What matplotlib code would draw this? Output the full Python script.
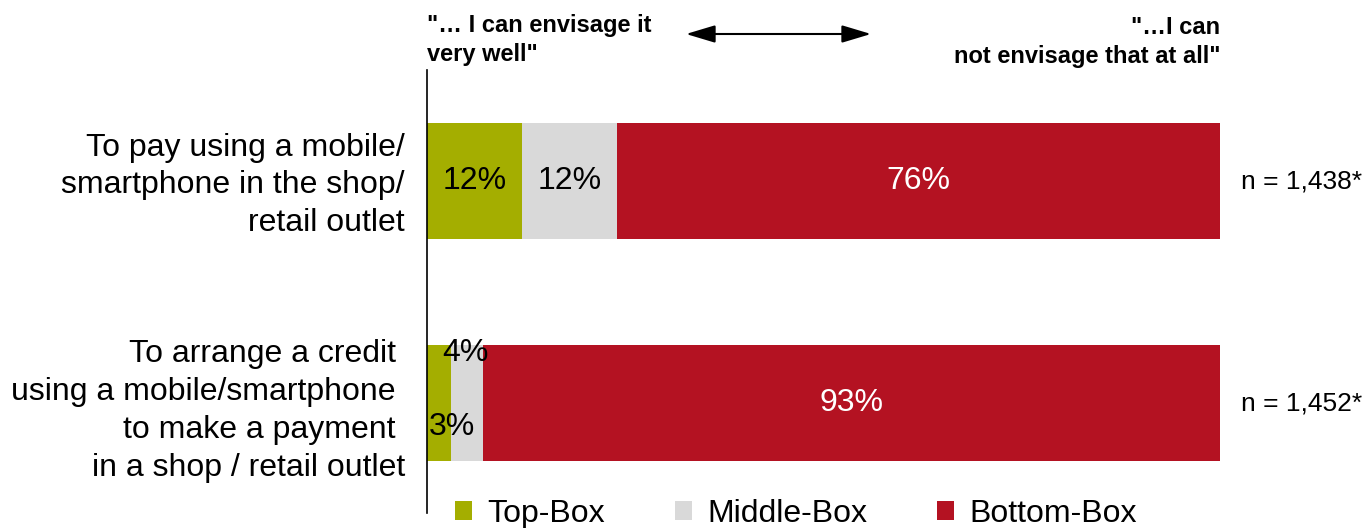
import matplotlib
matplotlib.use("Agg")
import matplotlib.pyplot as plt
from matplotlib.patches import Patch, FancyArrowPatch

plt.rcParams['font.family'] = ['Liberation Sans', 'DejaVu Sans']

# Survey statements and answer shares (%)
statements = [
    "To pay using a mobile/\nsmartphone in the shop/\nretail outlet",
    "To arrange a credit \nusing a mobile/smartphone \nto make a payment \nin a shop / retail outlet",
]
top_box = [12, 3]
middle_box = [12, 4]
bottom_box = [76, 93]
sample_sizes = ["n = 1,438*", "n = 1,452*"]
series_names = ["Top-Box", "Middle-Box", "Bottom-Box"]
colors = ["#A4AE00", "#D9D9D9", "#B41222"]

W, H = 1367, 528
fig = plt.figure(figsize=(W / 100, H / 100), dpi=100)
ax = fig.add_axes([427 / W, (H - 513) / H, (1220 - 427) / W, (513 - 70) / H])

ypos = [1, 0]
bar_h = 0.5225
lefts = [0, 0]
for vals, col in zip([top_box, middle_box, bottom_box], colors):
    ax.barh(ypos, vals, left=lefts, height=bar_h, color=col, edgecolor='none')
    lefts = [l + v for l, v in zip(lefts, vals)]

ax.set_xlim(0, 100)
ax.set_ylim(-0.495, 1.5)
for s in ['top', 'right', 'bottom']:
    ax.spines[s].set_visible(False)
ax.spines['left'].set_linewidth(1.2)
ax.set_xticks([])
ax.set_yticks([])

fs = 23
# Value labels: first statement
y = ypos[0]
ax.text(top_box[0] / 2, y, f"{top_box[0]}%", ha='center', va='center', fontsize=fs, color='black')
ax.text(top_box[0] + middle_box[0] / 2, y, f"{middle_box[0]}%", ha='center', va='center', fontsize=fs, color='black')
ax.text(top_box[0] + middle_box[0] + bottom_box[0] / 2, y, f"{bottom_box[0]}%", ha='center', va='center', fontsize=fs, color='white')

# Value labels: second statement (small shares placed off-centre)
y = ypos[1]
ax.text(top_box[1] / 2 + 1.65, y - 0.108, f"{top_box[1]}%", ha='center', va='center', fontsize=fs, color='black')
ax.text(top_box[1] + middle_box[1] / 2 - 0.2, y + 0.225, f"{middle_box[1]}%", ha='center', va='center', fontsize=fs, color='black')
ax.text(top_box[1] + middle_box[1] + bottom_box[1] / 2, y, f"{bottom_box[1]}%", ha='center', va='center', fontsize=fs, color='white')

# Statement labels on the left
label_shift = [-0.02, -0.036]
for yy, txt, dy in zip(ypos, statements, label_shift):
    ax.text(-2.8, yy + dy, txt, ha='right', va='center', fontsize=fs, linespacing=1.34)

# Sample sizes on the right
for yy, n in zip(ypos, sample_sizes):
    ax.text(102.6, yy, n, ha='left', va='center', fontsize=19)

# Scale annotation above the bars
fig.text(427 / W, 1 - 40 / H, "\"… I can envisage it\nvery well\"", ha='left', va='center',
         fontsize=17, fontweight='bold', linespacing=1.38)
fig.text(1220 / W, 1 - 42 / H, "\"…I can\nnot envisage that at all\"", ha='right', va='center',
         fontsize=17, fontweight='bold', linespacing=1.38)
fig.add_artist(FancyArrowPatch(
    (686 / W, 1 - 34 / H), (871 / W, 1 - 34 / H), transform=fig.transFigure,
    arrowstyle='<|-|>,head_length=0.4,head_width=0.12', mutation_scale=45,
    color='black', lw=1.5, shrinkA=0, shrinkB=0))

handles = [Patch(facecolor=c, edgecolor='none') for c in colors]
fig.legend(handles, series_names, loc='center', bbox_to_anchor=(796 / W, 1 - 514 / H),
           ncol=3, frameon=False, fontsize=fs, handlelength=0.53, handleheight=0.53,
           handletextpad=0.47, columnspacing=2.2, borderpad=0, borderaxespad=0)

fig.savefig("out.png", dpi=100)
